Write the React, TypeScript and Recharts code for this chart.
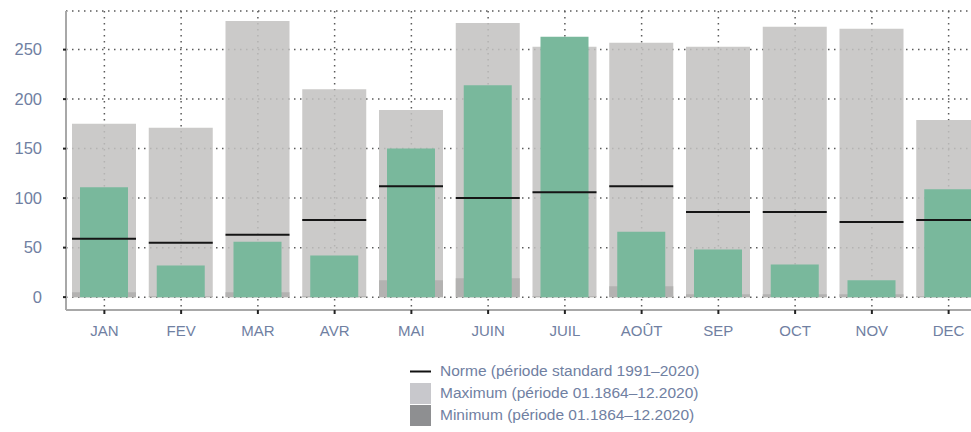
import React from 'react';
import { ComposedChart, Bar, XAxis, YAxis, CartesianGrid, Legend } from 'recharts';

const months = ['JAN', 'FEV', 'MAR', 'AVR', 'MAI', 'JUIN', 'JUIL', 'AOÛT', 'SEP', 'OCT', 'NOV', 'DEC'];
const maximum = [175, 171, 279, 210, 189, 277, 253, 257, 253, 273, 271, 179];
const minimum = [5, 1, 5, 1, 17, 19, 1, 11, 3, 3, 3, 1];
const valeurs = [111, 32, 56, 42, 150, 214, 263, 66, 48, 33, 17, 109];
const norme = [59, 55, 63, 78, 112, 100, 106, 112, 86, 86, 76, 78];
const yTicks = [0, 50, 100, 150, 200, 250];

const legendItems = [
  { label: 'Norme (période standard 1991–2020)', kind: 'line', color: '#111111' },
  { label: 'Maximum (période 01.1864–12.2020)', kind: 'box', color: '#c8c8cc' },
  { label: 'Minimum (période 01.1864–12.2020)', kind: 'box', color: '#8e8f91' },
];

const data = months.map((m, i) => ({
  m,
  max: maximum[i],
  min: minimum[i],
  val: valeurs[i],
  norme: norme[i],
}));

const FONT = '"Liberation Sans", Arial, sans-serif';
const TEXT = '#7080a2';

const NormeLine = (props: any) => {
  const { x, y, width } = props;
  return <line x1={x} x2={x + width} y1={y} y2={y} stroke="#151515" strokeWidth={2} />;
};

const LegendContent = () => (
  <div style={{ fontFamily: FONT, fontSize: 15.5, color: TEXT }}>
    {legendItems.map((it) => (
      <div key={it.label} style={{ display: 'flex', alignItems: 'center', height: 22 }}>
        <svg width={21} height={21} style={{ display: 'block' }}>
          {it.kind === 'line' ? (
            <line x1={0} x2={21} y1={10.5} y2={10.5} stroke={it.color} strokeWidth={2} />
          ) : (
            <rect x={0} y={0} width={21} height={21} fill={it.color} />
          )}
        </svg>
        <span style={{ marginLeft: 9, whiteSpace: 'nowrap' }}>{it.label}</span>
      </div>
    ))}
  </div>
);

export default function App() {
  return (
    <div style={{ position: 'absolute', left: 0, top: 0, width: 971, height: 432, overflow: 'hidden', background: '#fff' }}>
      <ComposedChart
        width={1000}
        height={432}
        data={data}
        margin={{ top: 11, right: 13, left: 0, bottom: 82 }}
      >
        <CartesianGrid stroke="#5a5a5a" strokeWidth={1.5} strokeDasharray="1.5 4.5" />
        <XAxis
          dataKey="m"
          tickSize={4}
          tickMargin={11}
          height={40}
          interval={0}
          axisLine={{ stroke: '#a8a8a8', strokeWidth: 2 }}
          tickLine={{ stroke: '#222', strokeWidth: 2 }}
          tick={{ fill: TEXT, fontSize: 15, fontFamily: FONT }}
        />
        <XAxis xAxisId="top" dataKey="m" orientation="top" height={0} tick={false} tickLine={false}
          axisLine={{ stroke: '#a8a8a8', strokeWidth: 2 }} />
        <XAxis xAxisId="max" dataKey="m" hide />
        <XAxis xAxisId="min" dataKey="m" hide />
        <XAxis xAxisId="norme" dataKey="m" hide />
        <YAxis
          width={66}
          domain={[-13, 289]}
          ticks={yTicks}
          allowDataOverflow
          tickSize={3}
          tickMargin={21}
          axisLine={{ stroke: '#a8a8a8', strokeWidth: 2 }}
          tickLine={{ stroke: '#222', strokeWidth: 2 }}
          tick={{ fill: TEXT, fontSize: 16.5, fontFamily: FONT }}
        />
        <Bar xAxisId="max" dataKey="max" barSize={64} fill="#c2c1c0" fillOpacity={0.86} isAnimationActive={false} />
        <Bar xAxisId="min" dataKey="min" barSize={64} fill="#b3b2b1" isAnimationActive={false} />
        <Bar dataKey="val" barSize={48} fill="#79b89c" isAnimationActive={false} />
        <Bar xAxisId="norme" dataKey="norme" barSize={64} shape={<NormeLine />} isAnimationActive={false} />
        <Legend
          layout="horizontal"
          verticalAlign="middle"
          align="center"
          content={<LegendContent />}
          wrapperStyle={{ position: 'absolute', left: 410, top: 360, width: 320, height: 66 }}
        />
      </ComposedChart>
    </div>
  );
}
